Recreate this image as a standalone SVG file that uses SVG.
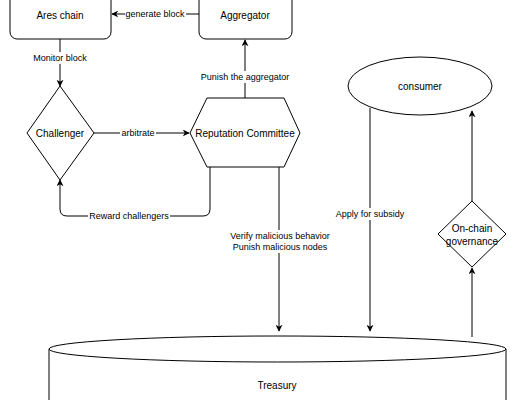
<svg xmlns="http://www.w3.org/2000/svg" width="520" height="400" viewBox="0 0 520 400">
<defs>
<marker id="arr" viewBox="0 0 10 10" refX="9" refY="5" markerWidth="7" markerHeight="7" orient="auto" markerUnits="userSpaceOnUse">
<path d="M0,0 L10,5 L0,10 L3,5 Z" fill="#000"/>
</marker>
<style>
.shape{fill:#fff;stroke:#000;stroke-width:1}
.t{font-family:"Liberation Sans",Arial,sans-serif;font-size:10px;fill:#000;text-anchor:middle;dominant-baseline:central}
.l{font-family:"Liberation Sans",Arial,sans-serif;font-size:9px;fill:#000;text-anchor:middle;dominant-baseline:central}
.e{fill:none;stroke:#000;stroke-width:1}
.bg{fill:#fff}
</style>
</defs>
<rect width="520" height="400" fill="#fff"/>
<g id="connectors">
<path class="e" d="M199,14 L112,14" marker-end="url(#arr)"/>
<rect class="bg" x="125" y="8" width="61" height="12"/>
<text class="l" x="155" y="14">generate block</text>
<path class="e" d="M60,39 L60,86" marker-end="url(#arr)"/>
<rect class="bg" x="30" y="52" width="60" height="12"/>
<text class="l" x="60" y="58">Monitor block</text>
<path class="e" d="M94,133 L189,133" marker-end="url(#arr)"/>
<rect class="bg" x="120" y="127" width="36" height="12"/>
<text class="l" x="138" y="133">arbitrate</text>
<path class="e" d="M245,98 L245,40" marker-end="url(#arr)"/>
<rect class="bg" x="198" y="71" width="94" height="12"/>
<text class="l" x="245" y="77">Punish the aggregator</text>
<path class="e" d="M210,167 L210,209 Q210,216 203,216 L67,216 Q60,216 60,209 L60,180" marker-end="url(#arr)"/>
<rect class="bg" x="88" y="210" width="82" height="12"/>
<text class="l" x="129" y="216">Reward challengers</text>
<path class="e" d="M279,167 L279,331" marker-end="url(#arr)"/>
<rect class="bg" x="228" y="230" width="104" height="23"/>
<text class="l" x="280" y="236">Verify malicious behavior</text>
<text class="l" x="280" y="247">Punish malicious nodes</text>
<path class="e" d="M370,108 L370,331" marker-end="url(#arr)"/>
<rect class="bg" x="332" y="208" width="76" height="12"/>
<text class="l" x="370" y="214">Apply for subsidy</text>
<path class="e" d="M472,337 L472,268" marker-end="url(#arr)"/>
<path class="e" d="M472,201 L472,111" marker-end="url(#arr)"/>
</g>
<g id="ares-chain">
<rect class="shape" x="10" y="-21" width="101" height="60" rx="7"/>
<text class="t" x="60" y="15">Ares chain</text>
</g>
<g id="aggregator">
<rect class="shape" x="199" y="-21" width="93" height="60" rx="7"/>
<text class="t" x="245" y="15">Aggregator</text>
</g>
<g id="challenger">
<path class="shape" d="M60,86 L94,133 L60,180 L27,133 Z"/>
<text class="t" x="60" y="133">Challenger</text>
</g>
<g id="reputation-committee">
<path class="shape" d="M190,133 L207,98 L284,98 L300,133 L284,167 L207,167 Z"/>
<text class="t" x="245" y="133">Reputation Committee</text>
</g>
<g id="consumer">
<ellipse class="shape" cx="420" cy="86" rx="72" ry="29"/>
<text class="t" x="420" y="86">consumer</text>
</g>
<g id="on-chain-governance">
<path class="shape" d="M472,201 L506,234 L472,267 L438,234 Z"/>
<text class="t" x="472" y="228">On-chain</text>
<text class="t" x="472" y="241">governance</text>
</g>
<g id="treasury">
<path class="shape" d="M49,349 L49,410 L506,410 L506,349"/>
<ellipse class="shape" cx="277.5" cy="349" rx="228.5" ry="13"/>
<text class="t" x="277" y="385">Treasury</text>
</g>
</svg>
